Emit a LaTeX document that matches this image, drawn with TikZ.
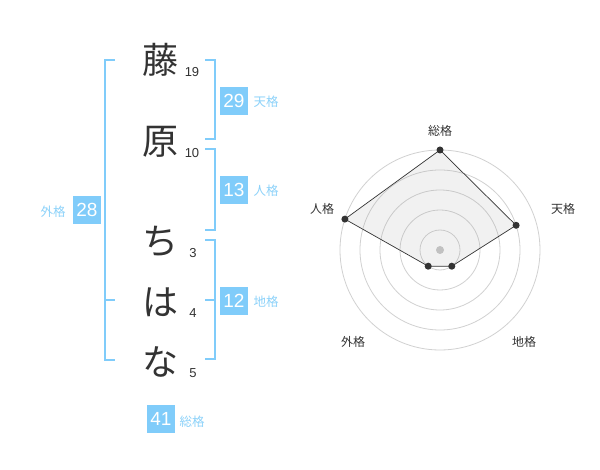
\documentclass[tikz,border=0pt]{standalone}
\usepackage{fontspec}
\setmainfont{Liberation Sans}
\newfontfamily\jp{Noto Sans CJK JP}
\usepackage{tikz}
\definecolor{sky}{RGB}{128,204,250}
\definecolor{skytext}{RGB}{140,210,250}
\definecolor{ink}{RGB}{51,51,51}
\tikzset{
  kanji/.style={text=ink, font=\jp\fontsize{36}{36}\selectfont, inner sep=0pt},
  strokes/.style={text=ink, font=\fontsize{13}{14}\selectfont, inner sep=0pt},
  scorebox/.style={fill=sky, text=white, minimum size=28pt, inner sep=0pt, font=\fontsize{19}{19}\selectfont},
  kaku/.style={text=skytext, font=\jp\fontsize{12.5}{12.5}\selectfont, inner sep=0pt},
  axis/.style={text=ink, font=\jp\fontsize{12}{12}\selectfont, inner sep=0pt},
  bracket/.style={line width=2pt, color=sky},
  ring/.style={line width=0.8pt, color=black!18},
  dot/.style={circle, fill=ink, inner sep=0pt, minimum size=7pt}
}
\begin{document}
\begin{tikzpicture}[x=1pt,y=-1pt]
		%%%%% START %%%%%
		\useasboundingbox[fill=white] (0, 0) rectangle (600, 470);
		
		\node[kanji] (c1) at (160, 60) {藤};
		\node[kanji] (c2) at (160, 142) {原};
		\node[kanji] (c3) at (160, 241) {ち};
		\node[kanji] (c4) at (160, 302) {は};
		\node[kanji] (c5) at (160, 362) {な};
		
		\node[strokes] (n1) at (192, 72) {19};
		\node[strokes] (n2) at (192, 153) {10};
		\node[strokes] (n3) at (193, 253) {3};
		\node[strokes] (n4) at (193, 313) {4};
		\node[strokes] (n5) at (193, 373) {5};
		
		\draw[bracket] (205, 60) -- (215, 60) -- (215, 139) -- (205, 139);
		\draw[bracket] (205, 149) -- (215, 149) -- (215, 230) -- (205, 230);
		\draw[bracket] (205, 240) -- (215, 240) -- (215, 359) -- (205, 359);
		\draw[bracket] (205, 300) -- (215, 300);
		\draw[bracket] (115, 60) -- (105, 60) -- (105, 360) -- (115, 360);
		\draw[bracket] (105, 300) -- (115, 300);
		
		\node[scorebox] (ten) at (234, 101) {29};
		\node[kaku] (tenl) at (266, 102) {天格};
		\node[scorebox] (jin) at (234, 190) {13};
		\node[kaku] (jinl) at (266, 191) {人格};
		\node[scorebox] (chi) at (234, 301) {12};
		\node[kaku] (chil) at (266, 302) {地格};
		\node[scorebox] (gai) at (87, 210) {28};
		\node[kaku] (gail) at (53, 212) {外格};
		\node[scorebox] (sou) at (161, 419) {41};
		\node[kaku] (soul) at (192, 422) {総格};
		
		% radar
		\draw[ring] (440, 250) circle (20);
		\draw[ring] (440, 250) circle (40);
		\draw[ring] (440, 250) circle (60);
		\draw[ring] (440, 250) circle (80);
		\draw[ring] (440, 250) circle (100);
		\fill[color=black!22] (440, 250) circle (4);
		
		\coordinate (pSou) at (440, 150);
		\coordinate (pTen) at (516.1, 225.3);
		\coordinate (pChi) at (451.8, 266.2);
		\coordinate (pGai) at (428.2, 266.2);
		\coordinate (pJin) at (344.9, 219.1);
		\draw[line width=0.7pt, color=ink, fill=black!40, fill opacity=0.13] (pSou) -- (pTen) -- (pChi) -- (pGai) -- (pJin) -- cycle;
		\node[dot] at (pSou) {};
		\node[dot] at (pTen) {};
		\node[dot] at (pChi) {};
		\node[dot] at (pGai) {};
		\node[dot] at (pJin) {};
		
		\node[axis] (aSou) at (440, 131) {総格};
		\node[axis] (aTen) at (563, 209) {天格};
		\node[axis] (aJin) at (322, 209) {人格};
		\node[axis] (aChi) at (524, 342) {地格};
		\node[axis] (aGai) at (353, 342) {外格};
		
		%%%%% END %%%%%
	\end{tikzpicture}
\end{document}
